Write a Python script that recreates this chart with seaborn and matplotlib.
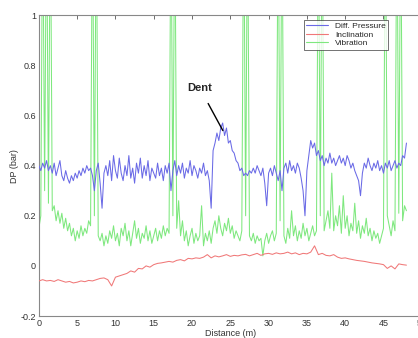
import numpy as np
import pandas as pd
import seaborn as sns
import matplotlib.pyplot as plt

# distance axis (m), 0.25 m step for pressure / vibration, 0.5 m for inclination
dist_fine = np.arange(0, 48.01, 0.25)
dist_coarse = np.arange(0, 48.01, 0.5)

diff_pressure = [
    0.40, 0.38, 0.41, 0.39, 0.42, 0.38, 0.40, 0.37, 0.41, 0.36, 0.39, 0.42,
    0.36, 0.34, 0.38, 0.35, 0.33, 0.36, 0.34, 0.37, 0.35, 0.38, 0.36, 0.39,
    0.37, 0.40, 0.38, 0.39, 0.36, 0.30, 0.38, 0.41, 0.33, 0.23, 0.37, 0.40,
    0.36, 0.42, 0.34, 0.44, 0.38, 0.35, 0.43, 0.37, 0.34, 0.40, 0.36, 0.44,
    0.35, 0.39, 0.33, 0.41, 0.37, 0.43, 0.35, 0.40, 0.36, 0.42, 0.34, 0.39,
    0.37, 0.35, 0.41, 0.36, 0.39, 0.34, 0.40, 0.37, 0.41, 0.30, 0.38, 0.42,
    0.36, 0.40, 0.37, 0.41, 0.35, 0.39, 0.37, 0.42, 0.36, 0.40, 0.38, 0.35,
    0.39, 0.37, 0.41, 0.36, 0.38, 0.34, 0.23, 0.46, 0.49, 0.53, 0.50, 0.55,
    0.57, 0.52, 0.55, 0.49, 0.50, 0.46, 0.45, 0.42, 0.41, 0.38, 0.39, 0.36,
    0.37, 0.36, 0.38, 0.37, 0.39, 0.37, 0.40, 0.38, 0.36, 0.39, 0.33, 0.24,
    0.37, 0.39, 0.36, 0.40, 0.37, 0.34, 0.38, 0.30, 0.39, 0.41, 0.37, 0.42,
    0.38, 0.40, 0.37, 0.41, 0.39, 0.35, 0.30, 0.20, 0.38, 0.44, 0.50, 0.47,
    0.49, 0.44, 0.46, 0.42, 0.44, 0.40, 0.43, 0.41, 0.45, 0.41, 0.43, 0.40,
    0.42, 0.44, 0.41, 0.43, 0.40, 0.44, 0.42, 0.39, 0.41, 0.38, 0.36, 0.34,
    0.28, 0.37, 0.41, 0.39, 0.43, 0.40, 0.38, 0.41, 0.39, 0.42, 0.38, 0.40,
    0.37, 0.41, 0.39, 0.42, 0.38, 0.40, 0.42, 0.39, 0.41, 0.40, 0.44, 0.43,
    0.49,
]

vibration = [
    0.15, 0.20, 1.50, 0.30, 1.50, 0.25, 1.50, 0.22, 0.24, 0.18, 0.22, 0.17,
    0.21, 0.15, 0.19, 0.14, 0.17, 0.12, 0.15, 0.10, 0.14, 0.11, 0.16, 0.12,
    0.15, 0.13, 0.18, 0.16, 1.50, 0.20, 1.50, 0.12, 0.10, 0.13, 0.08, 0.12,
    0.09, 0.14, 0.11, 0.16, 0.10, 0.13, 0.08, 0.15, 0.12, 0.17, 0.10, 0.14,
    0.08, 0.13, 0.18, 0.11, 0.15, 0.09, 0.13, 0.11, 0.16, 0.10, 0.14, 0.09,
    0.12, 0.15, 0.10, 0.14, 0.11, 0.16, 0.12, 0.15, 0.13, 1.50, 0.20, 1.50,
    0.15, 0.26, 0.12, 0.18, 0.10, 0.14, 0.08, 0.12, 0.15, 0.09, 0.13, 0.10,
    0.12, 0.24, 0.08, 0.13, 0.10, 0.14, 0.09, 0.15, 0.18, 0.13, 0.20, 0.15,
    0.12, 0.17, 0.14, 0.19, 0.13, 0.16, 0.11, 0.14, 0.12, 0.10, 0.14, 1.50,
    0.20, 1.50, 0.12, 0.10, 0.13, 0.09, 0.12, 0.10, 0.11, 0.04, 0.10, 0.13,
    0.09, 0.12, 0.14, 0.10, 0.13, 1.50, 0.18, 1.50, 0.12, 0.09, 0.15, 0.11,
    0.22, 0.12, 0.16, 0.10, 0.14, 0.11, 0.17, 0.12, 0.15, 0.10, 0.13, 0.16,
    0.12, 0.14, 1.50, 0.20, 1.50, 0.14, 0.18, 0.22, 0.15, 0.37, 0.14, 0.20,
    0.16, 0.24, 0.13, 0.28, 0.15, 0.20, 0.12, 0.17, 0.14, 0.25, 0.13, 0.18,
    0.11, 0.16, 0.13, 0.19, 0.12, 0.15, 0.10, 0.14, 0.11, 0.13, 0.09, 0.12,
    0.15, 1.50, 0.20, 0.16, 0.12, 0.18, 0.14, 1.50, 0.21, 1.50, 0.18, 0.24,
    0.22,
]

inclination = [
    -0.060, -0.055, -0.060, -0.058, -0.062, -0.055, -0.060, -0.065, -0.062, -0.068,
    -0.065, -0.060, -0.063, -0.058, -0.060, -0.055, -0.050, -0.048, -0.055, -0.080,
    -0.045, -0.040, -0.035, -0.030, -0.020, -0.025, -0.010, -0.012, 0.000, -0.005,
    0.005, 0.010, 0.012, 0.015, 0.018, 0.015, 0.022, 0.025, 0.020, 0.030,
    0.028, 0.032, 0.030, 0.035, 0.045, 0.032, 0.040, 0.036, 0.040, 0.045,
    0.038, 0.042, 0.040, 0.044, 0.046, 0.040, 0.045, 0.050, 0.042, 0.048,
    0.050, 0.046, 0.052, 0.048, 0.050, 0.055, 0.048, 0.052, 0.045, 0.050,
    0.048, 0.055, 0.080, 0.045, 0.050, 0.042, 0.040, 0.045, 0.035, 0.030,
    0.032, 0.028, 0.025, 0.022, 0.020, 0.018, 0.015, 0.012, 0.010, 0.008,
    0.005, -0.010, 0.000, -0.012, 0.008, 0.005, 0.003,
]

series_names = ["Diff. Pressure", "Inclination", "Vibration"]
series_colors = ["#6a6ae6", "#f07878", "#7ee87e"]

sns.set_style("white")
plt.rcParams['font.family'] = ['Liberation Sans', 'DejaVu Sans']

fig = plt.figure(figsize=(4.18, 3.38), dpi=100)
ax = fig.add_axes([0.093, 0.065, 0.916, 0.89])

sns.lineplot(x=dist_fine, y=diff_pressure, ax=ax, color=series_colors[0],
             lw=0.75, label=series_names[0], zorder=3)
sns.lineplot(x=dist_coarse, y=inclination, ax=ax, color=series_colors[1],
             lw=0.75, label=series_names[1], zorder=3)
sns.lineplot(x=dist_fine, y=vibration, ax=ax, color=series_colors[2],
             lw=0.75, label=series_names[2], zorder=2)

ax.set_xlim(0, 50)
ax.set_ylim(-0.2, 1)
ax.set_xticks(range(0, 51, 5))
ax.set_yticks([-0.2, 0, 0.2, 0.4, 0.6, 0.8, 1])
ax.set_yticklabels(["-0.2", "0", "0.2", "0.4", "0.6", "0.8", "1"])
ax.tick_params(direction='in', length=3, width=0.6, labelsize=6.5,
               top=True, right=True, colors='#555555', labelcolor='#333333', pad=2)
for s in ax.spines.values():
    s.set_color('#888888')
    s.set_linewidth(0.8)
ax.set_xlabel("Distance (m)", fontsize=6.5, color='#333333', labelpad=1)
ax.set_ylabel("DP (bar)", fontsize=6.5, color='#333333', labelpad=1)

leg = ax.legend(loc='upper right', bbox_to_anchor=(0.912, 0.985), fontsize=6,
                frameon=True, fancybox=False, handlelength=2.6, borderpad=0.3,
                labelspacing=0.1, handletextpad=0.8, borderaxespad=0)
leg.get_frame().set_edgecolor('#333333')
leg.get_frame().set_linewidth(0.6)
for h in leg.get_lines():
    h.set_linewidth(0.8)

ax.annotate("Dent", xy=(24.2, 0.53), xytext=(21.0, 0.71), fontsize=8,
            fontweight='bold', ha='center', va='center',
            arrowprops=dict(arrowstyle='-', color='black', lw=1.0, shrinkA=6))

fig.savefig("out.png", dpi=100)
